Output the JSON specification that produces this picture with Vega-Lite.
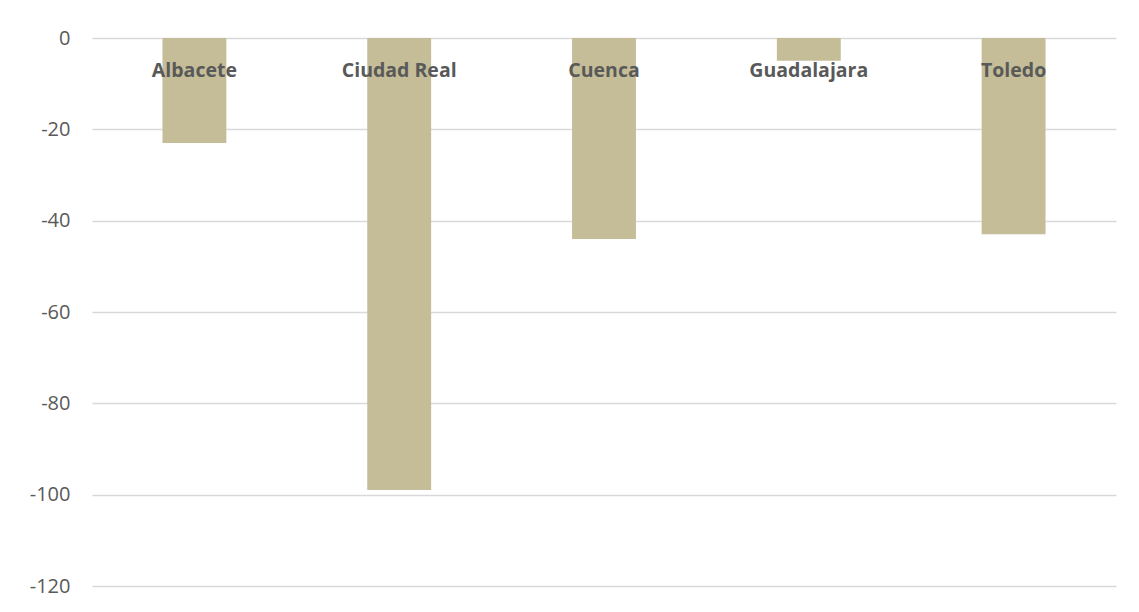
{
  "$schema": "https://vega.github.io/schema/vega-lite/v6.json",
  "width": 1024,
  "height": 548,
  "autosize": "none",
  "padding": {"left": 92, "top": 38, "right": 23, "bottom": 26},
  "background": "white",
  "config": {"view": {"stroke": null}, "font": "Open Sans"},
  "data": {"values": [
    {"provincia": "Albacete", "valor": -23},
    {"provincia": "Ciudad Real", "valor": -99},
    {"provincia": "Cuenca", "valor": -44},
    {"provincia": "Guadalajara", "valor": -5},
    {"provincia": "Toledo", "valor": -43}
  ]},
  "mark": {"type": "bar", "color": "#C4BD97"},
  "encoding": {
    "x": {
      "field": "provincia", "type": "nominal", "sort": null,
      "scale": {"paddingInner": 0.688, "paddingOuter": 0.344},
      "axis": {
        "orient": "top", "title": null, "domain": false, "ticks": false, "grid": false, "zindex": 1,
        "labelAngle": 0, "labelBaseline": "middle", "labelPadding": -32,
        "labelFont": "Open Sans", "labelFontSize": 19.5, "labelFontWeight": "bold", "labelColor": "#595959"
      }
    },
    "y": {
      "field": "valor", "type": "quantitative",
      "scale": {"domain": [-120, 0], "nice": false},
      "axis": {
        "title": null, "domain": false, "ticks": false, "values": [0, -20, -40, -60, -80, -100, -120],
        "labelExpr": "replace(datum.label, '\u2212', '-')",
        "gridColor": "#D9D9D9", "gridWidth": 1.3, "labelPadding": 22,
        "labelFont": "Open Sans", "labelFontSize": 20, "labelColor": "#595959"
      }
    }
  }
}
